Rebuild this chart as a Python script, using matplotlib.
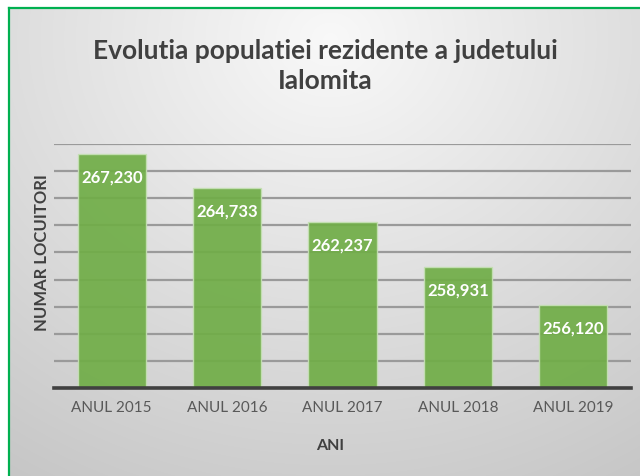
import numpy as np
import matplotlib
matplotlib.use('Agg')
from matplotlib import pyplot as plt

# data
ani = ['ANUL 2015', 'ANUL 2016', 'ANUL 2017', 'ANUL 2018', 'ANUL 2019']
locuitori = [267230, 264733, 262237, 258931, 256120]
etichete = ['267,230', '264,733', '262,237', '258,931', '256,120']

plt.rcParams['font.family'] = ['Lato', 'DejaVu Sans']

W, H = 640, 477
fig = plt.figure(figsize=(W / 100, H / 100), dpi=100)
fig.patch.set_facecolor('white')

# fundal cu gradient radial
bg = fig.add_axes([0, 0, 1, 1])
yy, xx = np.mgrid[0:H, 0:W]
r = np.sqrt((xx - 330) ** 2 + ((yy - 40) * 1.15) ** 2)
val = 0.975 - 0.2 * np.clip(r / 600, 0, 1)
img = np.dstack([val, val, val])
img[:9, :, :] = 1.0
img[:, :9, :] = 1.0
bg.imshow(img, extent=[0, W, H, 0], aspect='auto', interpolation='bilinear')
bg.plot([9, W], [9, 9], color='#00B050', lw=1.6)
bg.plot([9, 9], [9, H], color='#00B050', lw=1.6)
bg.set_xlim(0, W)
bg.set_ylim(H, 0)
bg.axis('off')

ax = fig.add_axes([54 / W, 1 - 389 / H, (631 - 54) / W, (389 - 145) / H])
ax.set_facecolor('none')
x = np.arange(len(ani))
bars = ax.bar(x, locuitori, width=0.59, color='#70AD47', alpha=0.92,
              edgecolor='#C5E0B4', linewidth=1, zorder=3)
ax.set_xlim(-0.5, len(ani) - 0.5)
ax.set_ylim(250000, 268000)
ax.set_yticks(np.arange(250000, 268001, 2000))
ax.yaxis.grid(True, color='#9a9a9a', linewidth=1.6, zorder=0)
ax.set_axisbelow(True)
ax.tick_params(axis='y', length=0, labelleft=False)
ax.tick_params(axis='x', length=0, labelsize=11, labelcolor='#595959', pad=9)
ax.set_xticks(x)
ax.set_xticklabels(ani)
for s in ['top', 'right', 'left']:
    ax.spines[s].set_visible(False)
ax.spines['bottom'].set_color('#404040')
ax.spines['bottom'].set_linewidth(2.6)
ax.spines['bottom'].set_zorder(4)

for b, lab in zip(bars, etichete):
    ax.annotate(lab, (b.get_x() + b.get_width() / 2, b.get_height()),
                xytext=(0, -16), textcoords='offset points',
                ha='center', va='center', color='white',
                fontsize=12, fontweight='bold', zorder=5)

fig.text(330 / W, 1 - 446 / H, 'ANI', ha='center', va='center',
         fontsize=11.5, fontweight='bold', color='#404040')
fig.text(42 / W, 1 - 253 / H, 'NUMAR LOCUITORI', ha='center', va='center',
         rotation=90, fontsize=12, fontweight='bold', color='#404040')
fig.text(325 / W, 1 - 66 / H, 'Evolutia populatiei rezidente a judetului\nIalomita',
         ha='center', va='center', fontsize=19, fontweight='bold',
         color='#404040', linespacing=1.3)

fig.savefig('out.png', dpi=100)
